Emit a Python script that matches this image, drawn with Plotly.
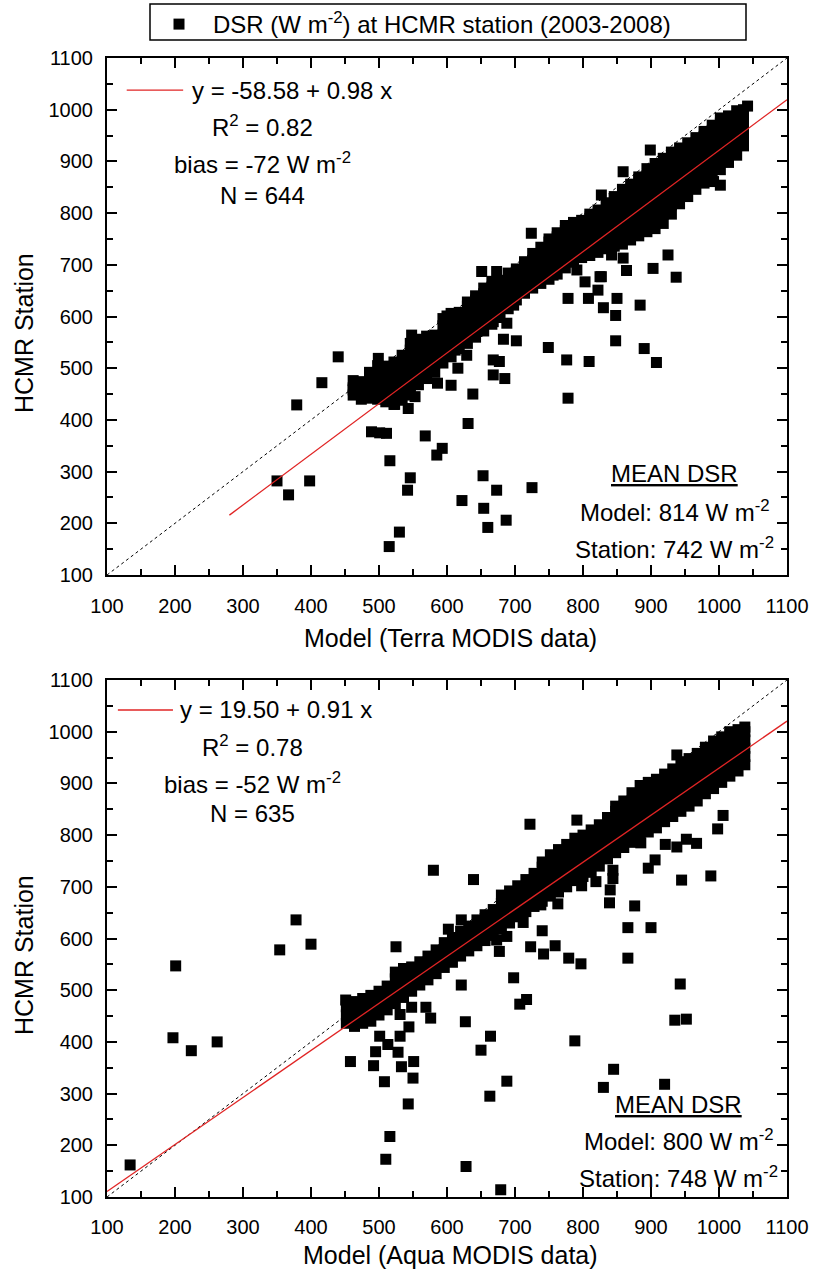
import plotly.graph_objects as go

# ---------------- data ----------------
axis_ticks = [100, 200, 300, 400, 500, 600, 700, 800, 900, 1000, 1100]
one_to_one = [100, 1100]

terra_intercept, terra_slope = -58.58, 0.98
terra_fit_x = [280, 1100]
aqua_intercept, aqua_slope = 19.50, 0.91
aqua_fit_x = [100, 1100]

# dense band (model x, list of station y) - Terra
terra_band = [
    (462, (448, 462, 476)), (474, (440, 458, 474)), (486, (442, 460, 478, 492)),
    (498, (440, 456, 474, 492, 505)), (510, (435, 452, 470, 488, 504)),
    (522, (430, 448, 466, 484, 502, 512)), (534, (438, 455, 472, 490, 508, 525)),
    (546, (448, 465, 482, 500, 518, 535, 548)), (558, (468, 486, 504, 522, 540, 556)),
    (570, (480, 498, 516, 534, 552, 562)), (582, (492, 510, 528, 546, 564)),
    (594, (510, 528, 546, 564, 582, 596)), (606, (522, 540, 558, 576, 594, 606)),
    (618, (538, 556, 574, 592, 608)), (630, (548, 566, 584, 602, 620, 628)),
    (642, (560, 578, 596, 614, 632, 640)), (654, (572, 590, 608, 626, 644, 655)),
    (666, (585, 603, 621, 639, 657, 668)), (678, (598, 616, 634, 652, 670)),
    (690, (615, 632, 650, 668, 684)), (702, (632, 650, 668, 686, 692)),
    (714, (645, 662, 680, 698, 706)), (726, (655, 672, 690, 708, 722)),
    (738, (664, 682, 700, 718, 734)), (750, (672, 690, 708, 726, 744, 750)),
    (762, (682, 700, 718, 736, 754, 762)), (774, (694, 712, 730, 748, 766, 776)),
    (786, (705, 722, 740, 758, 776, 782)), (798, (714, 732, 750, 768, 786)),
    (810, (718, 736, 754, 772, 790, 798)), (822, (724, 742, 760, 778, 796, 806)),
    (834, (731, 749, 767, 785, 803, 820)), (846, (736, 754, 772, 790, 808, 826, 832)),
    (858, (740, 758, 776, 794, 812, 830, 846)), (870, (748, 766, 784, 802, 820, 838, 856)),
    (882, (756, 774, 792, 810, 828, 846, 864, 870)),
    (894, (764, 782, 800, 818, 836, 854, 872, 886)),
    (906, (770, 788, 806, 824, 842, 860, 878, 896)),
    (918, (780, 798, 816, 834, 852, 870, 888, 906)),
    (930, (798, 816, 834, 852, 870, 888, 906, 918)),
    (942, (818, 836, 854, 872, 890, 908, 926)), (954, (832, 850, 868, 886, 904, 922, 936)),
    (966, (846, 864, 882, 900, 918, 936, 946)), (978, (858, 876, 894, 912, 930, 948, 958)),
    (990, (870, 888, 906, 924, 942, 960, 970)), (1002, (884, 902, 920, 938, 956, 974, 984)),
    (1014, (898, 916, 934, 952, 970, 988)), (1026, (912, 930, 948, 966, 984, 998)),
    (1036, (930, 948, 966, 984, 1000)),
]
terra_outliers = [
    (440, 522), (416, 472), (379, 429), (350, 282), (398, 282), (367, 255), (499, 519),
    (489, 377), (501, 375), (511, 374), (516, 321), (546, 288), (542, 264), (530, 183),
    (515, 155), (568, 369), (593, 345), (585, 332), (631, 393), (638, 450), (586, 471),
    (606, 467), (616, 500), (586, 513), (604, 529), (653, 292), (673, 264), (622, 244),
    (654, 229), (687, 206), (660, 192), (725, 269), (668, 516), (677, 513), (668, 487),
    (685, 480), (683, 556), (702, 553), (688, 587), (698, 622), (749, 540), (776, 516),
    (809, 513), (778, 442), (830, 617), (848, 602), (848, 553), (890, 538), (908, 511),
    (884, 622), (842, 719), (859, 713), (864, 689), (827, 677), (822, 651), (903, 693),
    (925, 719), (937, 676), (778, 635), (808, 635), (850, 635), (992, 861), (1002, 854),
    (1042, 1007), (1036, 938), (899, 922), (859, 880), (827, 835), (724, 761), (651, 687),
    (673, 687), (600, 601), (548, 564), (629, 525), (612, 535), (644, 571), (668, 590),
    (722, 658), (756, 680), (791, 690), (803, 667), (825, 677), (550, 497), (553, 445),
    (543, 422), (523, 430), (504, 448), (462, 458),
]

# dense band - Aqua
aqua_band = [
    (452, (436, 452, 468)), (464, (430, 446, 462, 478)), (476, (436, 452, 470, 484)),
    (488, (440, 456, 474, 490)), (500, (452, 468, 486, 498)), (512, (462, 478, 494, 508)),
    (524, (474, 490, 506, 522, 535)), (536, (486, 502, 518, 534, 542)),
    (548, (498, 514, 530, 545)), (560, (510, 526, 542, 555)), (572, (520, 536, 552, 566)),
    (584, (532, 548, 564, 578)), (596, (544, 560, 576, 592)), (608, (554, 570, 586, 602)),
    (620, (566, 582, 598, 614)), (632, (576, 592, 608, 624)), (644, (586, 602, 618, 636)),
    (656, (596, 612, 628, 646)), (668, (606, 622, 638, 656)), (680, (618, 634, 650, 668, 684)),
    (692, (630, 646, 662, 678, 692)), (704, (642, 658, 674, 690, 702)),
    (716, (652, 668, 684, 700, 714)), (728, (662, 678, 694, 710, 726)),
    (740, (672, 688, 704, 720, 738, 748)), (752, (682, 698, 714, 730, 746, 762)),
    (764, (690, 706, 722, 738, 754, 772)), (776, (700, 716, 732, 748, 764, 782)),
    (788, (712, 728, 744, 760, 776, 794)), (800, (720, 736, 752, 768, 784, 800)),
    (812, (728, 744, 760, 776, 792, 810)), (824, (740, 756, 772, 788, 804, 820)),
    (836, (754, 770, 786, 802, 818, 834)), (848, (766, 782, 798, 814, 830, 846, 856)),
    (860, (776, 792, 808, 824, 840, 856, 866)), (872, (786, 802, 818, 834, 850, 866, 882)),
    (884, (798, 814, 830, 846, 862, 878, 896)), (896, (806, 822, 838, 854, 870, 886, 902)),
    (908, (814, 830, 846, 862, 878, 894, 908)), (920, (826, 842, 858, 874, 890, 906, 918)),
    (932, (836, 852, 868, 884, 900, 916, 928)), (944, (846, 862, 878, 894, 910, 926, 942)),
    (956, (856, 872, 888, 904, 920, 936, 948)), (968, (866, 882, 898, 914, 930, 946, 958)),
    (980, (880, 896, 912, 928, 944, 960, 970)), (992, (890, 906, 922, 938, 954, 970, 982)),
    (1004, (902, 918, 934, 950, 966, 984, 990)), (1016, (914, 930, 946, 962, 978, 996, 1000)),
    (1028, (924, 940, 956, 972, 988, 1004)), (1038, (936, 952, 968, 984, 1000, 1009)),
]
aqua_outliers = [
    (134, 162), (201, 547), (197, 408), (224, 383), (262, 400), (354, 578), (378, 636),
    (400, 589), (451, 481), (458, 362), (492, 354), (495, 381), (501, 411), (508, 323),
    (513, 395), (528, 380), (531, 411), (533, 352), (551, 362), (550, 330), (543, 280),
    (516, 217), (510, 173), (548, 467), (569, 467), (576, 446), (531, 453), (544, 429),
    (525, 584), (621, 636), (602, 618), (621, 510), (627, 439), (628, 159), (650, 384),
    (664, 411), (663, 295), (679, 114), (688, 324), (698, 524), (707, 473), (717, 482),
    (673, 597), (688, 604), (677, 575), (712, 631), (723, 584), (740, 615), (742, 570),
    (759, 586), (779, 562), (797, 551), (788, 402), (830, 312), (845, 347), (866, 621),
    (866, 562), (876, 663), (900, 621), (920, 318), (943, 512), (935, 442), (952, 444),
    (839, 669), (738, 665), (763, 667), (580, 732), (639, 714), (722, 821), (791, 829),
    (938, 955), (1006, 838), (998, 812), (885, 785), (921, 782), (938, 777), (952, 792),
    (967, 784), (906, 752), (896, 736), (945, 713), (988, 721), (844, 732), (844, 716),
    (840, 694), (819, 710), (798, 702),
]

legend_label = "DSR (W m<sup>-2</sup>) at HCMR station (2003-2008)"
terra_stats = ["y = -58.58 + 0.98 x", "R<sup>2</sup> = 0.82",
               "bias = -72 W m<sup>-2</sup>", "N = 644"]
aqua_stats = ["y = 19.50 + 0.91 x", "R<sup>2</sup> = 0.78",
              "bias = -52 W m<sup>-2</sup>", "N = 635"]
terra_mean = ["<u>MEAN DSR</u>", "Model: 814 W m<sup>-2</sup>", "Station: 742 W m<sup>-2</sup>"]
aqua_mean = ["<u>MEAN DSR</u>", "Model: 800 W m<sup>-2</sup>", "Station: 748 W m<sup>-2</sup>"]
x_titles = ["Model (Terra MODIS data)", "Model (Aqua MODIS data)"]
y_title = "HCMR Station"


def expand(band, outliers):
    xs, ys = [], []
    for x, col in band:
        for y in col:
            xs.append(x)
            ys.append(y)
    for x, y in outliers:
        xs.append(x)
        ys.append(y)
    return xs, ys


terra_model, terra_station = expand(terra_band, terra_outliers)
aqua_model, aqua_station = expand(aqua_band, aqua_outliers)

FONT = "Liberation Sans, Arial, sans-serif"
W, H = 813, 1274
RED = "#e02424"

fig = go.Figure()

panels = [
    ("x", "y", terra_model, terra_station, terra_intercept, terra_slope, terra_fit_x, True),
    ("x2", "y2", aqua_model, aqua_station, aqua_intercept, aqua_slope, aqua_fit_x, False),
]
for xa, ya, mx, sy, b0, b1, fx, show in panels:
    fig.add_trace(go.Scatter(x=one_to_one, y=one_to_one, mode="lines", xaxis=xa, yaxis=ya,
                             line=dict(color="black", width=1, dash="dot"),
                             showlegend=False, hoverinfo="skip"))
    fig.add_trace(go.Scatter(x=mx, y=sy, mode="markers", xaxis=xa, yaxis=ya,
                             marker=dict(symbol="square", size=11, color="black",
                                         line=dict(width=0)),
                             name=legend_label, showlegend=show))
    fig.add_trace(go.Scatter(x=fx, y=[b0 + b1 * v for v in fx], mode="lines",
                             xaxis=xa, yaxis=ya, line=dict(color=RED, width=1.3),
                             showlegend=False, hoverinfo="skip"))

xdom = [107 / W, 787 / W]
top_dom = [(H - 575) / H, (H - 58) / H]
bot_dom = [(H - 1197) / H, (H - 680) / H]

axis_common = dict(
    range=[100, 1100], tickmode="array", tickvals=axis_ticks,
    ticktext=[str(t) for t in axis_ticks], automargin=False,
    showgrid=False, zeroline=False, showline=True, linecolor="black", linewidth=2,
    mirror="ticks", ticks="inside", ticklen=10, tickwidth=1.5, tickcolor="black",
    minor=dict(ticks="inside", ticklen=6, tickwidth=1.5, tickcolor="black", dtick=50,
               tick0=100, showgrid=False),
    tickfont=dict(family=FONT, size=20, color="black"),
)

fig.update_layout(
    width=W, height=H, margin=dict(l=0, r=0, t=0, b=0, autoexpand=False),
    paper_bgcolor="white", plot_bgcolor="white",
    font=dict(family=FONT, color="black"),
    xaxis=dict(domain=xdom, anchor="y", ticklabelstandoff=12, **axis_common),
    yaxis=dict(domain=top_dom, anchor="x", ticklabelstandoff=8, **axis_common),
    xaxis2=dict(domain=xdom, anchor="y2", ticklabelstandoff=11, **axis_common),
    yaxis2=dict(domain=bot_dom, anchor="x2", ticklabelstandoff=8, **axis_common),
    legend=dict(x=145 / W, xanchor="left", y=1 - 2 / H, yanchor="top",
                borderwidth=0, bgcolor="rgba(0,0,0,0)", itemwidth=58,
                font=dict(family=FONT, size=24, color="black")),
    showlegend=True,
)

ann = []
# legend frame
shapes = [dict(type="rect", xref="paper", yref="paper", x0=150 / W, x1=746 / W,
               y0=1 - 40 / H, y1=1 - 4 / H, line=dict(color="black", width=1.5),
               fillcolor="rgba(0,0,0,0)", layer="below")]
# stats blocks
stat_specs = [("x", "y", terra_stats, 222, 328, [1038, 968, 897, 835], (129, 212)),
              ("x2", "y2", aqua_stats, 204, 314, [1042, 972, 900, 842], (116, 197))]
for xa, ya, lines, x_first, x_center, ys, seg in stat_specs:
    ann.append(dict(xref=xa, yref=ya, x=x_first, y=ys[0], text=lines[0], showarrow=False,
                    xanchor="left", yanchor="middle", font=dict(family=FONT, size=24)))
    for t, yv in zip(lines[1:], ys[1:]):
        ann.append(dict(xref=xa, yref=ya, x=x_center, y=yv, text=t, showarrow=False,
                        xanchor="center", yanchor="middle", font=dict(family=FONT, size=24)))
    shapes.append(dict(type="line", xref=xa, yref=ya, x0=seg[0], x1=seg[1], y0=ys[0], y1=ys[0],
                       line=dict(color=RED, width=1.3)))

mean_specs = [("x", "y", terra_mean, 935, [297, 224, 152]),
              ("x2", "y2", aqua_mean, 941, [278, 210, 139])]
for xa, ya, lines, xc, ys in mean_specs:
    for t, yv in zip(lines, ys):
        ann.append(dict(xref=xa, yref=ya, x=xc, y=yv, text=t, showarrow=False,
                        xanchor="center", yanchor="middle", font=dict(family=FONT, size=24)))

# axis titles
for t, py in zip(x_titles, [638, 1255]):
    ann.append(dict(xref="paper", yref="paper", x=450 / W, y=1 - py / H, text=t,
                    showarrow=False, xanchor="center", yanchor="middle",
                    font=dict(family=FONT, size=25)))
for py in [333, 955]:
    ann.append(dict(xref="paper", yref="paper", x=24 / W, y=1 - py / H, text=y_title,
                    showarrow=False, xanchor="center", yanchor="middle", textangle=-90,
                    font=dict(family=FONT, size=25)))

fig.update_layout(annotations=ann, shapes=shapes)
fig.write_html("out.html")
